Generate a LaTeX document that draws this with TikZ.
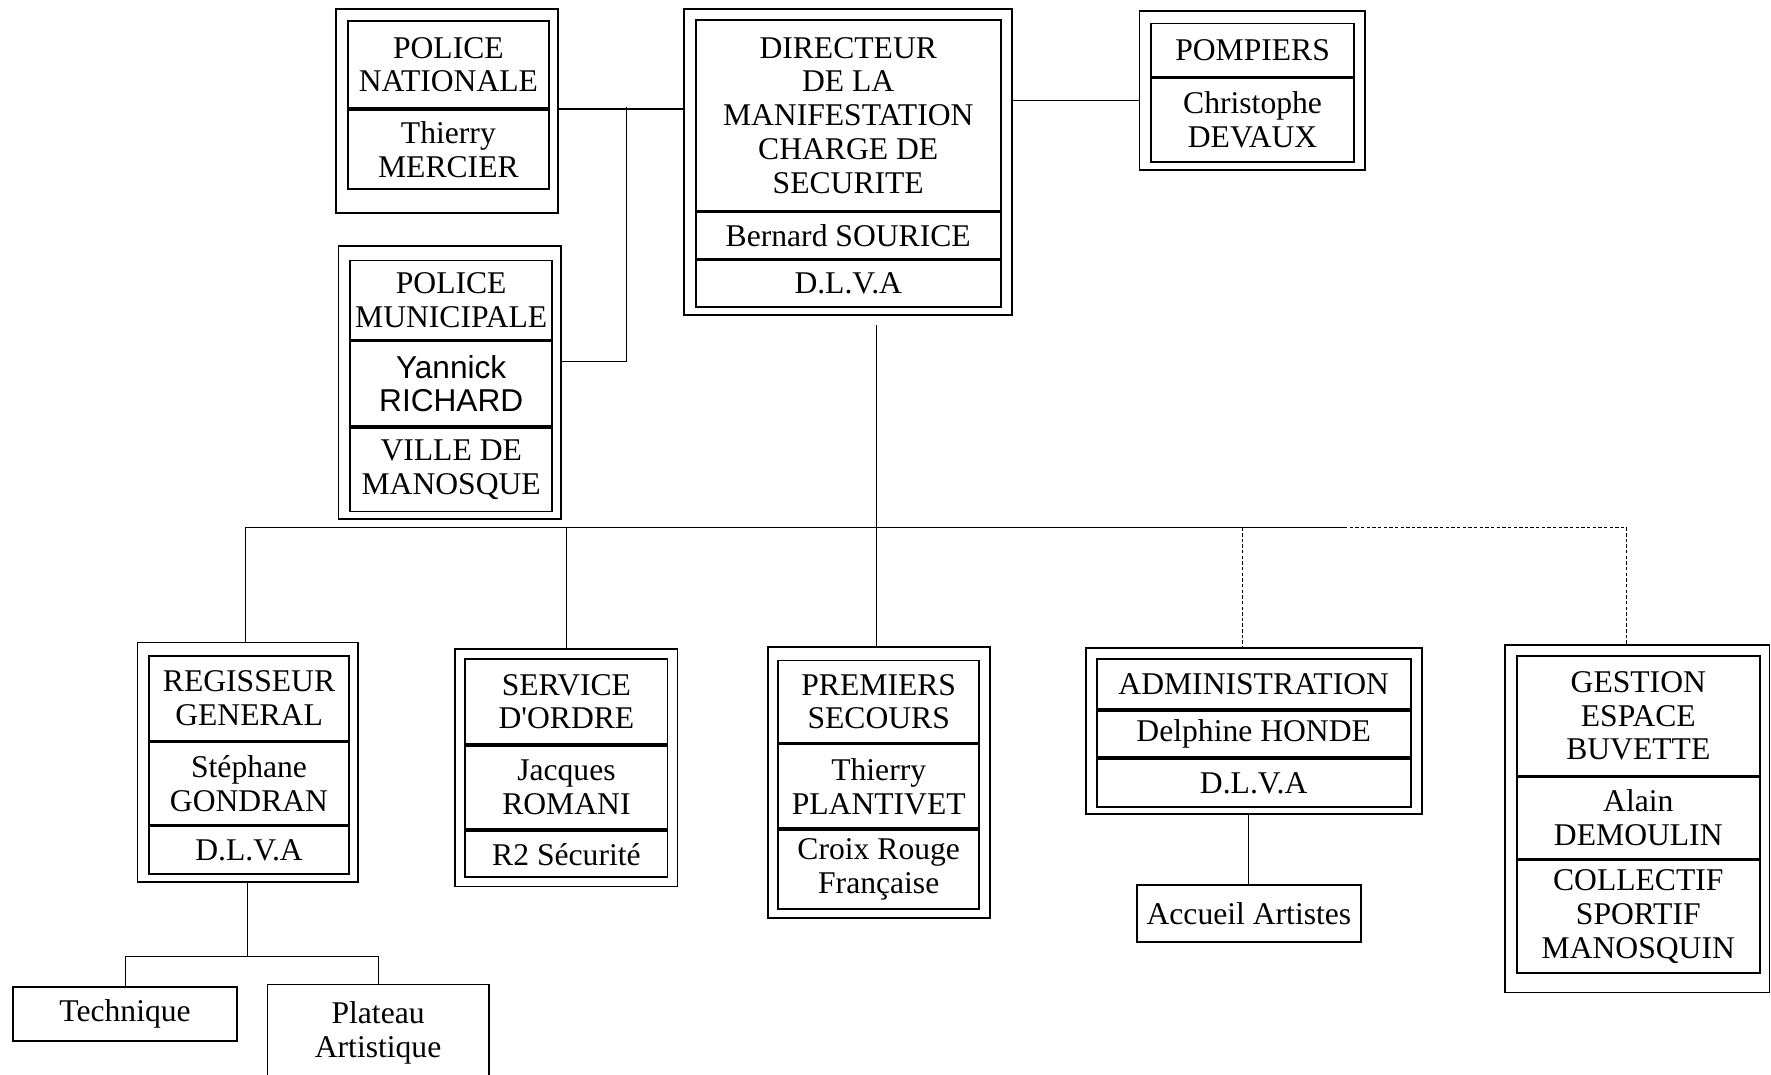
\documentclass[tikz,border=0pt]{standalone}
\usepackage{fontspec}
\setmainfont{Liberation Serif}
\newfontfamily\sansf{Liberation Sans}

\begin{document}
\begin{tikzpicture}[x=1pt, y=-1pt, line width=1.5pt,
    font=\fontsize{28}{30}\selectfont,
    cell/.style={draw, align=center, inner sep=0pt, anchor=north},
    frame/.style={draw, inner sep=0pt, anchor=north west},
    leaf/.style={draw, align=center, inner sep=0pt, anchor=north west},
    wire/.style={line width=1pt}]
\useasboundingbox (0,0) rectangle (1568,951);
% police nationale
\node[cell, minimum width=178, minimum height=77] (pnT) at (397,18) {POLICE\\NATIONALE};
\node[cell, minimum width=178, minimum height=70] (pnN) at (pnT.south) {Thierry\\MERCIER};
\node[frame, minimum width=196, minimum height=181] (pn) at (297,7) {};
% directeur
\node[cell, minimum width=270, minimum height=169] (dirT) at (751,17)
      {DIRECTEUR\\DE LA\\MANIFESTATION\\CHARGE DE\\SECURITE};
\node[cell, minimum width=270, minimum height=41] (dirN) at (dirT.south) {Bernard SOURICE};
\node[cell, minimum width=270, minimum height=41] (dirO) at (dirN.south) {D.L.V.A};
\node[frame, minimum width=290, minimum height=271] (dir) at (605,7) {};
% pompiers
\node[cell, minimum width=180, minimum height=47] (pompT) at (1109,20) {POMPIERS};
\node[cell, minimum width=180, minimum height=74] (pompN) at (pompT.south) {Christophe\\DEVAUX};
\node[frame, minimum width=200, minimum height=141] (pomp) at (1008,9) {};
% police municipale
\node[cell, minimum width=179, minimum height=70] (pmT) at (399.5,230) {POLICE\\MUNICIPALE};
\node[cell, minimum width=179, minimum height=75] (pmN) at (pmT.south) {\sansf Yannick\\\sansf RICHARD};
\node[cell, minimum width=179, minimum height=74] (pmO) at (pmN.south) {VILLE DE\\MANOSQUE};
\node[frame, minimum width=197, minimum height=242] (pm) at (299,217) {};
% regisseur
\node[cell, minimum width=177, minimum height=75] (regT) at (220.5,580) {REGISSEUR\\GENERAL};
\node[cell, minimum width=177, minimum height=73] (regN) at (regT.south) {Stéphane\\GONDRAN};
\node[cell, minimum width=177, minimum height=42] (regO) at (regN.south) {D.L.V.A};
\node[frame, minimum width=195, minimum height=212] (reg) at (121,568) {};
% service d'ordre
\node[cell, minimum width=179, minimum height=75] (sdoT) at (501.5,583) {SERVICE\\D\textquotesingle ORDRE};
\node[cell, minimum width=179, minimum height=74] (sdoN) at (sdoT.south) {Jacques\\ROMANI};
\node[cell, minimum width=179, minimum height=41] (sdoO) at (sdoN.south) {R2 Sécurité};
\node[frame, minimum width=197, minimum height=210] (sdo) at (402,574) {};
% premiers secours
\node[cell, minimum width=178, minimum height=73] (psT) at (778,584) {PREMIERS\\SECOURS};
\node[cell, minimum width=178, minimum height=74] (psN) at (psT.south) {Thierry\\PLANTIVET};
\node[cell, minimum width=178, minimum height=70] (psO) at (psN.south) {Croix Rouge\\Française};
\node[frame, minimum width=197, minimum height=240] (ps) at (679,572) {};
% administration
\node[cell, minimum width=278, minimum height=44] (admT) at (1110,583) {ADMINISTRATION};
\node[cell, minimum width=278, minimum height=41] (admN) at (admT.south) {Delphine HONDE};
\node[cell, minimum width=278, minimum height=43] (admO) at (admN.south) {D.L.V.A};
\node[frame, minimum width=297, minimum height=147] (adm) at (961,573) {};
% buvette
\node[cell, minimum width=215, minimum height=106] (gesT) at (1450.5,580) {GESTION\\ESPACE\\BUVETTE};
\node[cell, minimum width=215, minimum height=72] (gesN) at (gesT.south) {Alain\\DEMOULIN};
\node[cell, minimum width=215, minimum height=100] (gesO) at (gesN.south) {COLLECTIF\\SPORTIF\\MANOSQUIN};
\node[frame, minimum width=234, minimum height=308] (ges) at (1332,570) {};
% sous-services
\node[leaf, minimum width=198, minimum height=48] (tech) at (11,873) {Technique};
\node[leaf, minimum width=196, minimum height=86] (plat) at (236,871) {Plateau\\Artistique};
\node[leaf, minimum width=198, minimum height=50] (acc) at (1006,783) {Accueil Artistes};
% liaisons du haut
\coordinate (j1) at (555,95);
\coordinate (j2) at (555,320);
\coordinate (jp) at (950,89);
\draw[wire] (pnT.south -| pn.east) -- (pnT.south -| dir.west);
\draw[wire] (j1) -- (j2) -- (j2 -| pm.east);
\draw[wire] (jp -| dir.east) -- (jp -| pomp.west);
% bus
\coordinate (top) at (776,288);
\coordinate (busL) at (217,467);
\coordinate (busM) at (1190,467);
\coordinate (busR) at (1440,467);
\coordinate (tadm) at (1100,467);
\draw[wire] (top) -- (top |- ps.north);
\draw[wire] (busL) -- (busM);
\draw[wire, densely dashed] (busM) -- (busR);
\draw[wire] (busL) -- (busL |- reg.north);
\draw[wire] (sdo.north |- busL) -- (sdo.north);
\draw[wire, densely dashed] (tadm) -- (tadm |- adm.north);
\draw[wire, densely dashed] (busR) -- (busR |- ges.north);
% liaisons du bas
\coordinate (fork) at (217,847);
\draw[wire] (reg.south) -- (reg.south |- fork);
\draw[wire] (tech.north) |- (fork) -| (plat.north);
\draw[wire] (acc.north) -- (acc.north |- adm.south);
\end{tikzpicture}
\end{document}
